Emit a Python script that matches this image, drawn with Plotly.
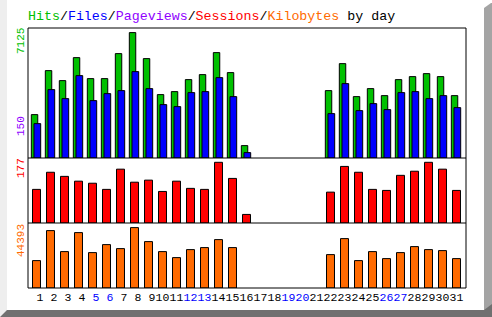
import plotly.graph_objects as go

# ---------------- data ----------------
days = list(range(1, 32))
hits = [2465, 4965, 4397, 5703, 4510, 4510, 5931, 7125, 5647, 3602, 3772, 4454, 4738, 5988, 4852, 704,
        None, None, None, None, None,
        3829, 5362, 3488, 3942, 3544, 4453, 4624, 4794, 4624, 3544]
files = [1954, 3886, 3374, 4681, 3261, 3658, 3829, 4908, 3942, 3033, 2920, 3715, 3772, 4567, 3488, 307,
         None, None, None, None, None,
         2522, 4226, 2692, 3090, 2749, 3715, 3772, 3374, 3544, 2863]
sessions = [98, 148, 136, 122, 116, 98, 157, 119, 125, 92, 122, 101, 98, 177, 130, 25,
            None, None, None, None, None,
            90, 165, 148, 98, 95, 139, 151, 177, 157, 95]
kbytes = [20140, 42190, 26755, 40720, 26020, 31900, 28960, 44393, 34100, 26755, 22345, 28225, 29700, 35575, 29700, None,
          None, None, None, None, None,
          24550, 36310, 20140, 26755, 21610, 26020, 30430, 28225, 27490, 21610]
weekend_days = [5, 6, 12, 13, 19, 20, 26, 27]
scale_labels = ["7125", "150", "177", "44393"]
title_parts = ["Hits", "Files", "Pageviews", "Sessions", "Kilobytes"]

# ---------------- style ----------------
C_HITS = "#00C000"
C_FILES = "#0000FF"
C_PAGES = "#9000FF"
C_SESS = "#FF0000"
C_KB = "#FF6A00"
MONO = "Liberation Mono"

W, H = 492, 317
L, R, T, B = 28, 26, 28, 29
PW, PH = W - L - R, H - T - B


def px(x):
    return (x - L) / PW


def py(y):
    return (H - B - y) / PH


fig = go.Figure()
line = dict(color="black", width=1)
fig.add_trace(go.Bar(x=days, y=hits, width=0.46, offset=-0.37, marker=dict(color=C_HITS, line=line),
                     xaxis="x", yaxis="y"))
fig.add_trace(go.Bar(x=days, y=files, width=0.48, offset=-0.18, marker=dict(color=C_FILES, line=line),
                     xaxis="x", yaxis="y"))
fig.add_trace(go.Bar(x=days, y=sessions, width=0.57, marker=dict(color=C_SESS, line=line),
                     xaxis="x", yaxis="y2"))
fig.add_trace(go.Bar(x=days, y=kbytes, width=0.57, marker=dict(color=C_KB, line=line),
                     xaxis="x", yaxis="y3"))

ticktext = []
for d in days:
    s = f"{d:2d}".replace(" ", "\u00a0")
    if d in weekend_days:
        s = f"<span style='color:{C_FILES}'>{s}</span>"
    ticktext.append(s)

x_left = 1 - 8.5 / 14
x_right = x_left + PW / 14
fig.update_layout(
    width=W, height=H,
    margin=dict(l=L, r=R, t=T, b=B, pad=0),
    paper_bgcolor="white", plot_bgcolor="white",
    showlegend=False, barmode="overlay",
    xaxis=dict(range=[x_left, x_right], anchor="y3", tickvals=days, ticktext=ticktext, tickangle=0,
               tickfont=dict(family=MONO, size=11.5, color="black"), ticks="",
               showgrid=False, zeroline=False, showline=False, fixedrange=True),
    yaxis=dict(domain=[0.5, 1], range=[0, 7125 * 130 / 125.4], anchor="x",
               showticklabels=False, showgrid=False, zeroline=False, showline=False),
    yaxis2=dict(domain=[0.25, 0.5], range=[0, 177 * 65 / 60.7], anchor="x",
                showticklabels=False, showgrid=False, zeroline=False, showline=False),
    yaxis3=dict(domain=[0, 0.25], range=[0, 44393 * 65 / 60.4], anchor="x",
                showticklabels=False, showgrid=False, zeroline=False, showline=False),
)

shapes = []
# bevel / shadow frame of the image
shapes.append(dict(type="rect", xref="paper", yref="paper", x0=px(0), x1=px(7), y0=py(317), y1=py(0),
                   fillcolor="#EEEEEE", line=dict(width=0), layer="below"))
shapes.append(dict(type="path", xref="paper", yref="paper",
                   path=f"M {px(484)} {py(8)} L {px(491)} {py(3)} L {px(492)} {py(3)} L {px(492)} {py(317)} L {px(484)} {py(317)} Z",
                   fillcolor="#A4A4A4", line=dict(width=0), layer="below"))
shapes.append(dict(type="path", xref="paper", yref="paper",
                   path=f"M {px(0)} {py(317)} L {px(7)} {py(310)} L {px(484)} {py(310)} L {px(492)} {py(304)} L {px(492)} {py(317)} Z",
                   fillcolor="#707070", line=dict(width=0), layer="below"))
# chart frame and panel dividers
shapes.append(dict(type="rect", xref="paper", yref="paper", x0=0, x1=1, y0=0, y1=1,
                   line=dict(color="black", width=1), layer="above"))
for yy in (0.25, 0.5):
    shapes.append(dict(type="line", xref="paper", yref="paper", x0=0, x1=1, y0=yy, y1=yy,
                       line=dict(color="black", width=1), layer="above"))
fig.update_layout(shapes=shapes)

# title
colors = [C_HITS, C_FILES, C_PAGES, C_SESS, C_KB]
title = "<span style='color:black'>/</span>".join(
    f"<span style='color:{c}'>{t}</span>" for t, c in zip(title_parts, colors)) + \
    "<span style='color:black'> by day</span>"
annotations = [dict(text=title, xref="paper", yref="paper", x=px(27), y=py(17), xanchor="left",
                    yanchor="middle", showarrow=False, font=dict(family=MONO, size=13.3), borderpad=0)]
# rotated scale labels
label_specs = [(scale_labels[0], C_HITS, 41), (scale_labels[1], C_PAGES, 126),
               (scale_labels[2], C_SESS, 168), (scale_labels[3], C_KB, 241)]
for txt, c, yc in label_specs:
    annotations.append(dict(text=txt, xref="paper", yref="paper", x=px(21), y=py(yc), xanchor="center",
                            yanchor="middle", textangle=-90, showarrow=False,
                            font=dict(family=MONO, size=11, color=c), borderpad=0))
fig.update_layout(annotations=annotations)

fig.write_html("out.html")
